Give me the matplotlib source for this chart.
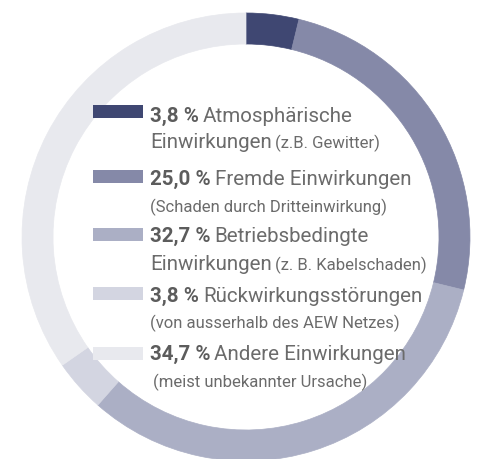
import matplotlib
matplotlib.use('Agg')
import matplotlib.pyplot as plt
from matplotlib.patches import Rectangle

# data
shares = [3.8, 25.0, 32.7, 3.8, 34.7]
pct_labels = ['3,8 %', '25,0 %', '32,7 %', '3,8 %', '34,7 %']
line1_text = ['Atmosphärische', 'Fremde Einwirkungen', 'Betriebsbedingte',
              'Rückwirkungsstörungen', 'Andere Einwirkungen']
line2_big = ['Einwirkungen', '', 'Einwirkungen', '', '']
line2_small = ['(z.B. Gewitter)', '(Schaden durch Dritteinwirkung)',
               '(z. B. Kabelschaden)', '(von ausserhalb des AEW Netzes)',
               '(meist unbekannter Ursache)']
colors = ['#3f4772', '#8589a8', '#abafc5', '#d3d5e1', '#e8e9ee']

W, H = 479, 459
plt.rcParams['font.family'] = ['Roboto', 'DejaVu Sans']

fig = plt.figure(figsize=(W / 100, H / 100), dpi=100)
ax = fig.add_axes([0, 0, 1, 1])

# donut, pixel coords with y flipped
cx, cy, r = 246, H - 237, 224
wedges, _ = ax.pie(shares, colors=colors, startangle=90, counterclock=False,
                   center=(cx, cy), radius=r,
                   wedgeprops=dict(width=31, linewidth=0.5))
for w, c in zip(wedges, colors):
    w.set_edgecolor(c)
ax.set_xlim(0, W)
ax.set_ylim(0, H)
ax.set_aspect('equal')
ax.axis('off')

# legend rows
sw_top = [105, 170, 228, 287, 347]
base1 = [122, 185, 242, 302, 360]
base2 = [148, 212, 270, 328, 387]
x_text = 150
big = 14.8
small = 12
grey = '#6b6b6b'

renderer = fig.canvas.get_renderer()
inv = ax.transData.inverted()


def put(x, y, s, **kw):
    t = ax.text(x, H - y, s, va='baseline', ha='left', **kw)
    bb = t.get_window_extent(renderer)
    return inv.transform((bb.x1, bb.y0))[0]


for i in range(len(shares)):
    ax.add_patch(Rectangle((93, H - sw_top[i] - 12.5), 50, 12.5,
                           color=colors[i], lw=0))
    x = put(x_text, base1[i], pct_labels[i], fontsize=big,
            fontweight='bold', color='#5c5c5c')
    put(x + 4, base1[i], line1_text[i], fontsize=big, color=grey)
    x2 = x_text + (3 if i == 4 else 0)
    if line2_big[i]:
        x2 = put(x2, base2[i], line2_big[i], fontsize=big, color=grey) + 3
    put(x2, base2[i], line2_small[i], fontsize=small, color=grey)

fig.savefig('out.png', dpi=100)
